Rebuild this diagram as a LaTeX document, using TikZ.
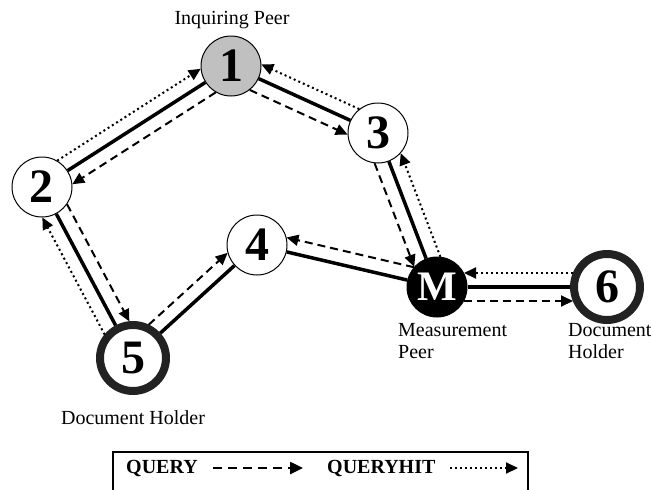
\documentclass[tikz,border=0pt]{standalone}
\usepackage{fontspec}
\setmainfont{Liberation Serif}
\usetikzlibrary{calc,arrows.meta}
\definecolor{peergray}{HTML}{C0C0C0}
\definecolor{holderring}{HTML}{222222}
\newcommand\offedge[7]{\draw[#1] ($(#2)!#6!(#3)!14pt!#4:(#3)$) -- ($(#3)!#7!(#2)!14pt!#5:(#2)$);}
\begin{document}
\begin{tikzpicture}[x=1pt,y=-1pt,
  peer/.style={circle,draw=black,line width=1pt,minimum size=60pt,inner sep=0pt,fill=white,
    font=\fontsize{48}{48}\selectfont\bfseries},
  holder/.style={circle,draw=holderring,line width=8pt,minimum size=66pt,inner sep=0pt,fill=white,
    font=\fontsize{48}{48}\selectfont\bfseries},
  lbl/.style={font=\fontsize{20}{22}\selectfont,inner sep=0pt},
  link/.style={line width=3.5pt},
  qry/.style={line width=2pt,dash pattern=on 8pt off 5pt,-{Triangle[length=12pt,width=11pt]}},
  hit/.style={line width=2pt,dash pattern=on 2pt off 3pt,-{Triangle[length=12pt,width=11pt]}},
  legtxt/.style={font=\fontsize{20}{22}\selectfont\bfseries,inner sep=0pt,anchor=west}
]
\useasboundingbox (0,0) rectangle (651,490);
% nodes
\node[peer,fill=peergray] (n1) at (231,66) {1};
\node[peer] (n2) at (42,187) {2};
\node[peer] (n3) at (378,133) {3};
\node[peer] (n4) at (257,245) {4};
\node[holder] (n5) at (133,358) {5};
\node[peer,fill=black,text=white,font=\fontsize{42}{42}\selectfont\bfseries] (nM) at (437,287) {M};
\node[holder] (n6) at (607,287) {6};
% solid links
\draw[link] (n1) -- (n2);
\draw[link] (n1) -- (n3);
\draw[link] (n2) -- (n5);
\draw[link] (n5) -- (n4);
\draw[link] (n4) -- (nM);
\draw[link] (n3) -- (nM);
\draw[link] (nM) -- (n6);
% query / queryhit
\offedge{hit}{n2}{n1}{90}{-90}{27pt}{27pt}
\offedge{qry}{n1}{n2}{90}{-90}{27pt}{27pt}
\offedge{qry}{n1}{n3}{-90}{90}{27pt}{27pt}
\offedge{hit}{n3}{n1}{-90}{90}{27pt}{27pt}
\offedge{qry}{n2}{n5}{90}{-90}{27pt}{34pt}
\offedge{hit}{n5}{n2}{90}{-90}{34pt}{27pt}
\offedge{qry}{n5}{n4}{90}{-90}{34pt}{27pt}
\offedge{qry}{nM}{n4}{-90}{90}{27pt}{27pt}
\offedge{qry}{n3}{nM}{-90}{90}{27pt}{27pt}
\offedge{hit}{nM}{n3}{-90}{90}{27pt}{27pt}
\offedge{hit}{n6}{nM}{-90}{90}{34pt}{27pt}
\offedge{qry}{nM}{n6}{-90}{90}{27pt}{34pt}
% labels
\node[lbl] (l1) at (232,20) {Inquiring Peer};
\node[lbl,anchor=north west,align=left] (lM) at (398,323) {Measurement\\Peer};
\node[lbl,anchor=north west,align=left] (l6) at (568,323) {Document\\Holder};
\node[lbl] (l5) at (133,418) {Document Holder};
% legend
\draw[line width=1.5pt] (113,520) -- (113,452) -- (528,452) -- (528,520);
\node[legtxt] (lq) at (126,468) {QUERY};
\coordinate (qa) at (213,468);
\coordinate (qb) at (303,468);
\draw[line width=2.5pt,dash pattern=on 9pt off 6pt,-{Triangle[length=13pt,width=12pt]}] (qa) -- (qb);
\node[legtxt] (lh) at (327,468) {QUERYHIT};
\coordinate (ha) at (450,468);
\coordinate (hb) at (518,468);
\draw[line width=2pt,dash pattern=on 2pt off 3pt,-{Triangle[length=12pt,width=11pt]}] (ha) -- (hb);
\end{tikzpicture}
\end{document}
